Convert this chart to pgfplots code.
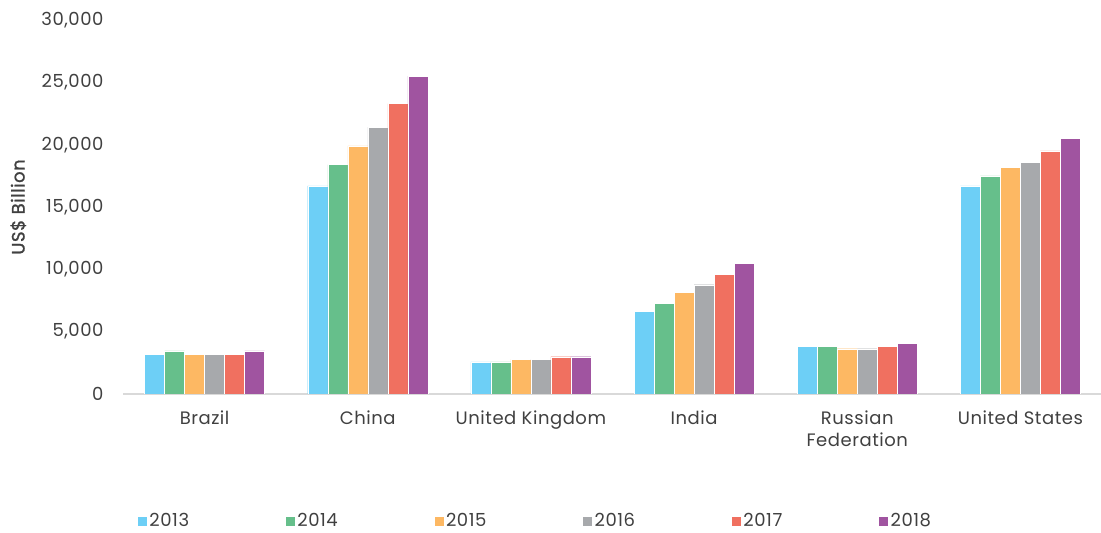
\documentclass[border=0pt]{standalone}
\usepackage{pgfplots}
\pgfplotsset{compat=1.18}
\usepackage{fontspec}
\setmainfont{Poppins}[LetterSpace=3]
\newfontfamily\medfont{Poppins}[FakeBold=1.2,LetterSpace=3]
\definecolor{c13}{HTML}{6DCFF6}
\definecolor{c14}{HTML}{66BF8B}
\definecolor{c15}{HTML}{FDB863}
\definecolor{c16}{HTML}{A7A9AC}
\definecolor{c17}{HTML}{F07060}
\definecolor{c18}{HTML}{A054A0}
\definecolor{txt}{HTML}{404040}
\definecolor{axl}{HTML}{D9D9D9}
\begin{document}
\begin{tikzpicture}[x=1pt,y=1pt]
\useasboundingbox (0,0) rectangle (1101,533);
\begin{axis}[
  at={(123pt,139pt)}, anchor=south west,
  width=979pt, height=374pt, scale only axis,
  xmin=-0.5, xmax=5.5, ymin=0, ymax=30000,
  ybar=0pt, bar width=20pt,
  axis x line*=bottom, axis y line*=left,
  y axis line style={draw=none},
  x axis line style={axl, line width=1.5pt, -},
  major tick length=0pt,
  ytick={0,5000,...,30000},
  scaled y ticks=false,
  /pgf/number format/.cd, fixed, 1000 sep={,}, assume math mode=true, /pgfplots/.cd,
  xtick={0,...,5},
  xticklabels={Brazil,China,United Kingdom,India,Russian\\Federation,United States},
  tick label style={font=\fontsize{18}{22}\selectfont, text=txt},
  xticklabel style={align=center, yshift=-13pt},
  yticklabel style={xshift=-16pt},
  ylabel={US\$ Billion},
  every axis y label/.style={at={(axis description cs:-0.107,0.5)}, rotate=90, anchor=center},
  label style={font=\medfont\fontsize{18}{22}\selectfont, text=txt},
  legend columns=6,
  legend style={at={(axis description cs:0.0143,-0.3396)}, anchor=west, draw=none, inner sep=0pt,
    font=\fontsize{18}{22}\selectfont, text=txt,
    /tikz/every even column/.append style={column sep=94pt}},
  legend image code/.code={\fill[#1] (0pt,-5pt) rectangle (10pt,5pt);},
]
\addplot[fill=c13, draw=white, line width=0.3pt] coordinates {(0,3200) (1,16700) (2,2570) (3,6630) (4,3850) (5,16700)};
\addplot[fill=c14, draw=white, line width=0.3pt] coordinates {(0,3450) (1,18400) (2,2570) (3,7270) (4,3850) (5,17500)};
\addplot[fill=c15, draw=white, line width=0.3pt] coordinates {(0,3200) (1,19900) (2,2780) (3,8130) (4,3630) (5,18200)};
\addplot[fill=c16, draw=white, line width=0.3pt] coordinates {(0,3200) (1,21400) (2,2780) (3,8770) (4,3630) (5,18600)};
\addplot[fill=c17, draw=white, line width=0.3pt] coordinates {(0,3200) (1,23300) (2,2990) (3,9620) (4,3850) (5,19500)};
\addplot[fill=c18, draw=white, line width=0.3pt] coordinates {(0,3450) (1,25500) (2,2990) (3,10480) (4,4070) (5,20500)};
\legend{2013,2014,2015,2016,2017,2018}
\end{axis}
\end{tikzpicture}
\end{document}
